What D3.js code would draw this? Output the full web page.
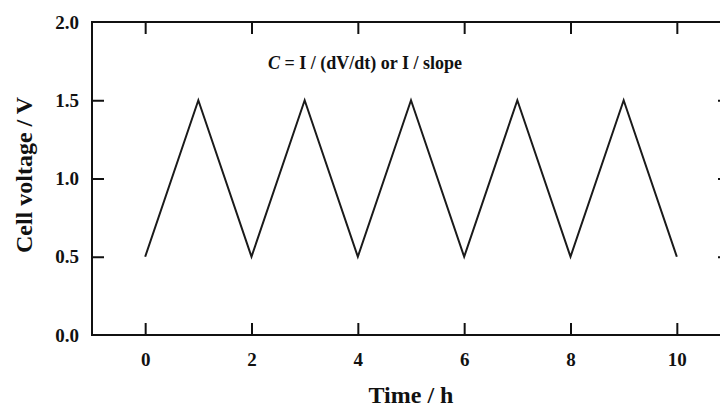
<!DOCTYPE html>
<html>
<head>
<meta charset="utf-8">
<script src="https://cdn.jsdelivr.net/npm/d3@7"></script>
<style>
  body { margin: 0; background: #fff; }
  svg text { font-family: "Liberation Serif", "Times New Roman", serif; font-weight: bold; fill: #111; }
</style>
</head>
<body>
<svg id="chart" width="720" height="407"></svg>
<script>
// data: triangular charge / discharge profile
var times    = [0, 1, 2, 3, 4, 5, 6, 7, 8, 9, 10];
var voltages = [0.5, 1.5, 0.5, 1.5, 0.5, 1.5, 0.5, 1.5, 0.5, 1.5, 0.5];
var xTicks = [0, 2, 4, 6, 8, 10];
var yTicks = [0.0, 0.5, 1.0, 1.5, 2.0];

var svg = d3.select("#chart");

// scales
var xScale = d3.scaleLinear().domain([-1, 11]).range([92, 730]);
var yScale = d3.scaleLinear().domain([0, 2]).range([335, 22]);

var tickLen = 12;

// frame
svg.append("rect")
  .attr("x", xScale(-1))
  .attr("y", yScale(2))
  .attr("width", xScale(11) - xScale(-1))
  .attr("height", yScale(0) - yScale(2))
  .style("fill", "none")
  .style("stroke", "#111")
  .style("stroke-width", 2);

// bottom axis, ticks inward
var xAxisBottom = d3.axisBottom(xScale).tickValues(xTicks).tickSize(-tickLen).tickPadding(tickLen + 6)
  .tickFormat(d3.format("d"));
var gx = svg.append("g")
  .attr("transform", "translate(0," + yScale(0) + ")")
  .call(xAxisBottom);

// top axis mirror ticks
var gxt = svg.append("g")
  .attr("transform", "translate(0," + yScale(2) + ")")
  .call(d3.axisTop(xScale).tickValues(xTicks).tickSize(-tickLen).tickFormat(""));

// left axis
var gy = svg.append("g")
  .attr("transform", "translate(" + xScale(-1) + ",0)")
  .call(d3.axisLeft(yScale).tickValues(yTicks).tickSize(-tickLen).tickPadding(13)
    .tickFormat(d3.format(".1f")));

// right axis mirror ticks
var gyr = svg.append("g")
  .attr("transform", "translate(" + xScale(11) + ",0)")
  .call(d3.axisRight(yScale).tickValues(yTicks).tickSize(-tickLen).tickFormat(""));

[gx, gxt, gy, gyr].forEach(function(g) {
  g.select(".domain").remove();
  g.attr("font-size", null).attr("font-family", null);
  g.selectAll(".tick line").style("stroke", "#111").style("stroke-width", 2);
  g.selectAll(".tick text")
    .style("font-family", "'Liberation Serif', 'Times New Roman', serif")
    .style("font-weight", "bold")
    .style("font-size", "19px")
    .style("fill", "#111");
});
// no tick marks on the frame corners
gy.selectAll(".tick").filter(function(d) { return d === 0 || d === 2; }).select("line").remove();
gyr.selectAll(".tick").filter(function(d) { return d === 0 || d === 2; }).select("line").remove();

// voltage line
var line = d3.line()
  .x(function(d, i) { return xScale(times[i]); })
  .y(function(d) { return yScale(d); });

svg.append("path")
  .datum(voltages)
  .attr("d", line)
  .style("fill", "none")
  .style("stroke", "#1a1a1a")
  .style("stroke-width", 2)
  .style("stroke-linejoin", "miter");

// annotation
var note = svg.append("text")
  .attr("x", 365)
  .attr("y", 69)
  .attr("text-anchor", "middle")
  .style("font-size", "18px");
note.append("tspan").style("font-style", "italic").text("C");
note.append("tspan").text(" =  I / (dV/dt) or I / slope");

// axis titles
svg.append("text")
  .attr("x", 411)
  .attr("y", 403)
  .attr("text-anchor", "middle")
  .style("font-size", "24px")
  .text("Time / h");

svg.append("text")
  .attr("transform", "translate(32," + 175 + ") rotate(-90)")
  .attr("text-anchor", "middle")
  .style("font-size", "24px")
  .text("Cell voltage / V");
</script>
</body>
</html>
